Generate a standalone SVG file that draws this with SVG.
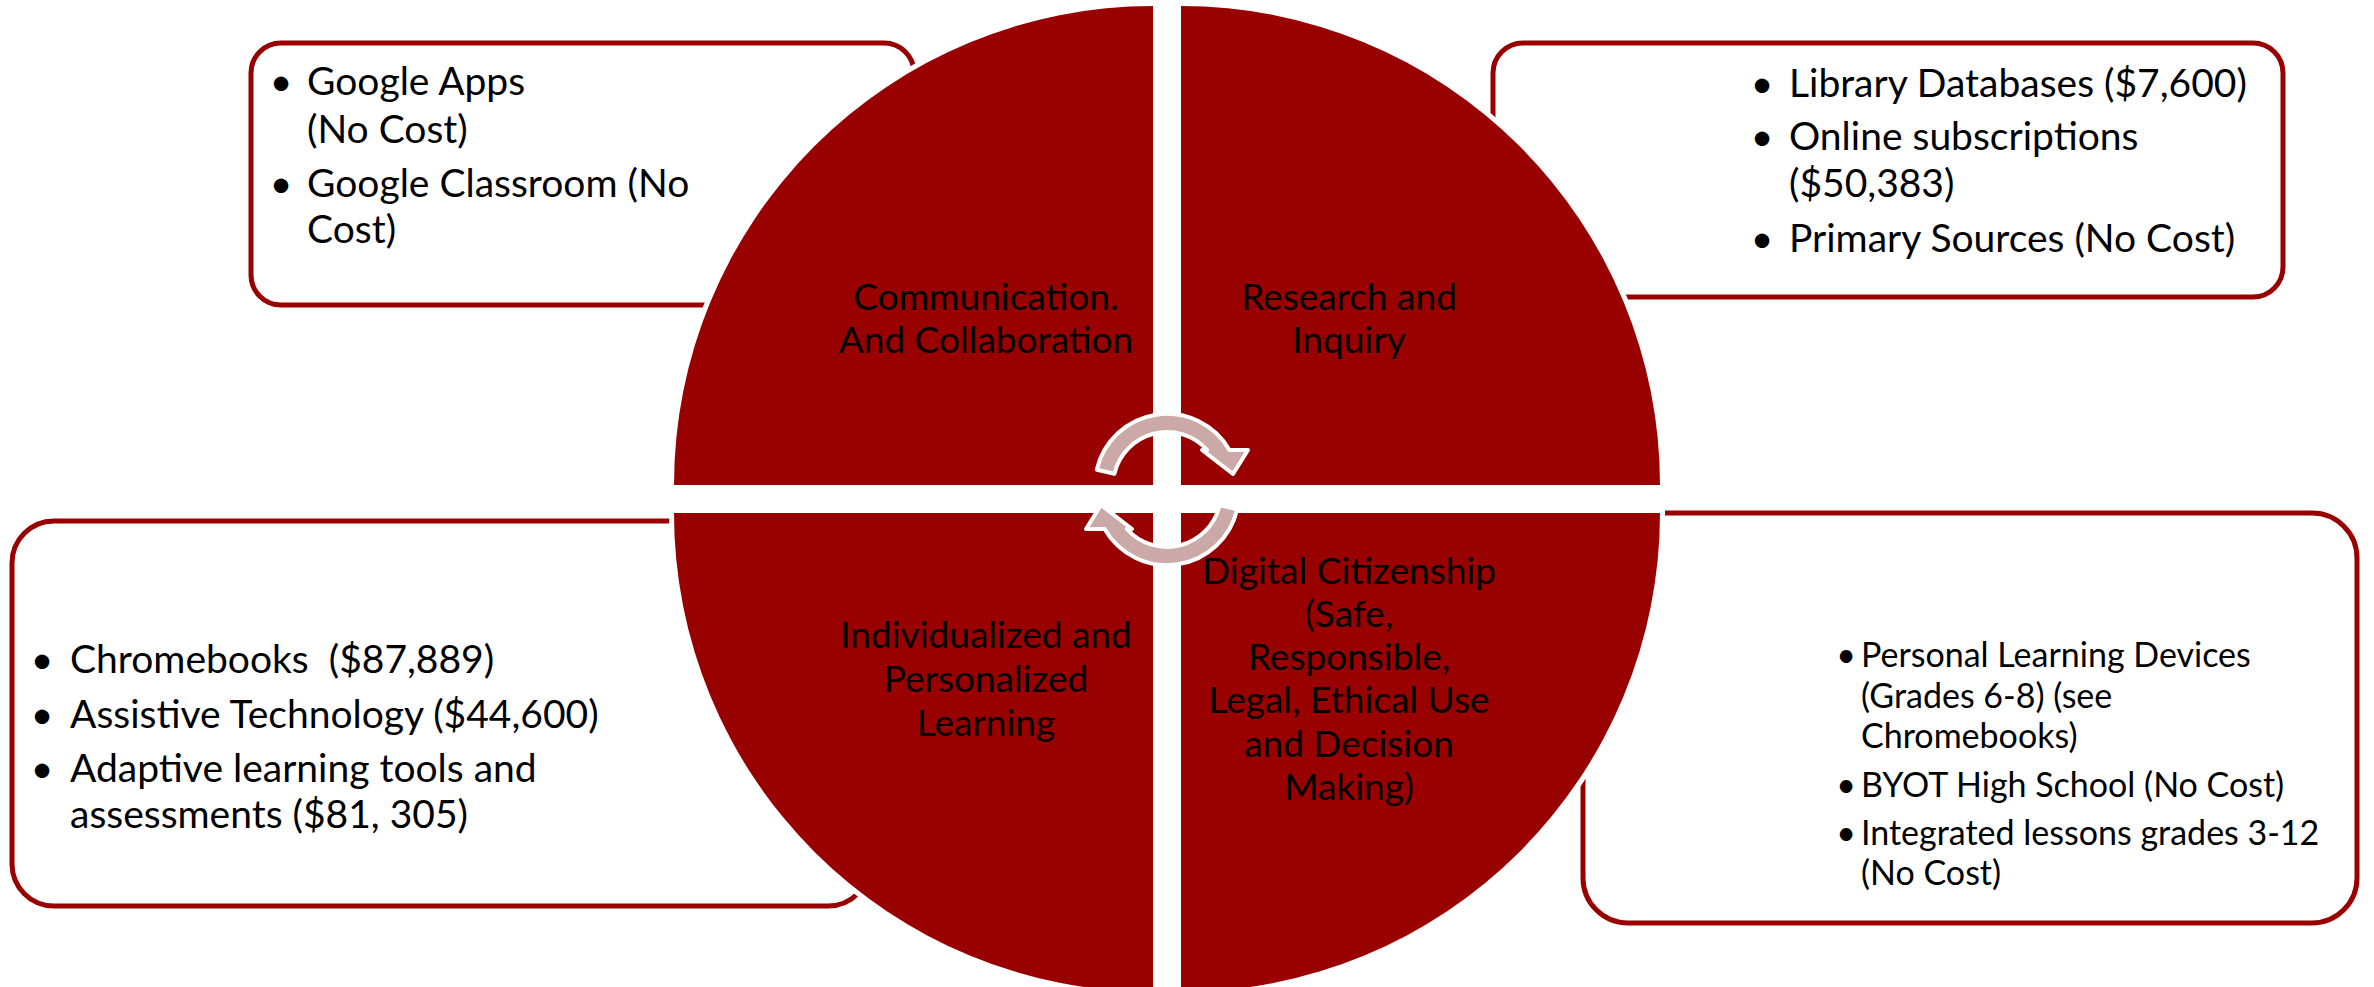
<svg xmlns="http://www.w3.org/2000/svg" width="2374" height="987" viewBox="0 0 2374 987">
<style>
.box{fill:#fff;stroke:#990000;stroke-width:5}
.quad{fill:#990000;stroke:#fff;stroke-width:10;paint-order:stroke}
.bt{font-family:Lato,"Liberation Sans",sans-serif;font-size:39px;fill:#000}
.bs{font-family:Lato,"Liberation Sans",sans-serif;font-size:34px;fill:#000}
.ct{font-family:Lato,"Liberation Sans",sans-serif;font-size:37px;fill:#000;text-anchor:middle}
.bul{text-anchor:middle}
.arr{fill:#CBA9A9;stroke:#fff;stroke-width:4;stroke-linejoin:round}
</style>
<rect width="2374" height="987" fill="#fff"/>
<g id="box-communication">
<rect class="box" x="251" y="43" width="663" height="262" rx="30"/>
<text class="bt"><tspan class="bul" x="281" y="95">•</tspan><tspan x="307" y="95">Google Apps</tspan><tspan x="307" y="143">(No Cost)</tspan><tspan class="bul" x="281" y="197">•</tspan><tspan x="307" y="197">Google Classroom (No</tspan><tspan x="307" y="243">Cost)</tspan></text>
</g>
<g id="box-research">
<rect class="box" x="1493" y="43" width="790" height="254" rx="30"/>
<text class="bt"><tspan class="bul" x="1762" y="97">•</tspan><tspan x="1789" y="97">Library Databases ($7,600)</tspan><tspan class="bul" x="1762" y="150">•</tspan><tspan x="1789" y="150">Online subscriptions</tspan><tspan x="1789" y="197">($50,383)</tspan><tspan class="bul" x="1762" y="252">•</tspan><tspan x="1789" y="252">Primary Sources (No Cost)</tspan></text>
</g>
<g id="box-individualized">
<rect class="box" x="12" y="521" width="858" height="385" rx="42"/>
<text class="bt"><tspan class="bul" x="42" y="673">•</tspan><tspan x="70" y="673">Chromebooks&#160; ($87,889)</tspan><tspan class="bul" x="42" y="728">•</tspan><tspan x="70" y="728">Assistive Technology ($44,600)</tspan><tspan class="bul" x="42" y="782">•</tspan><tspan x="70" y="782">Adaptive learning tools and</tspan><tspan x="70" y="828">assessments ($81, 305)</tspan></text>
</g>
<g id="box-digital">
<rect class="box" x="1583" y="513" width="774" height="410" rx="45"/>
<text class="bs"><tspan class="bul" x="1846" y="667">•</tspan><tspan x="1861" y="667">Personal Learning Devices</tspan><tspan x="1861" y="708">(Grades 6-8) (see</tspan><tspan x="1861" y="748">Chromebooks)</tspan><tspan class="bul" x="1846" y="797">•</tspan><tspan x="1861" y="797">BYOT High School (No Cost)</tspan><tspan class="bul" x="1846" y="845">•</tspan><tspan x="1861" y="845">Integrated lessons grades 3-12</tspan><tspan x="1861" y="885">(No Cost)</tspan></text>
</g>
<g id="quad-communication">
<path class="quad" d="M1153,485 L674,485 A479,479 0 0 1 1153,6 Z"/>
<text class="ct"><tspan x="986" y="310">Communication.</tspan><tspan x="986" y="353">And Collaboration</tspan></text>
</g>
<g id="quad-research">
<path class="quad" d="M1181,485 L1181,6 A479,479 0 0 1 1660,485 Z"/>
<text class="ct"><tspan x="1349" y="310">Research and</tspan><tspan x="1349" y="353">Inquiry</tspan></text>
</g>
<g id="quad-individualized">
<path class="quad" d="M1153,513 L1153,992 A479,479 0 0 1 674,513 Z"/>
<text class="ct"><tspan x="986" y="648">Individualized and</tspan><tspan x="986" y="692">Personalized</tspan><tspan x="986" y="736">Learning</tspan></text>
</g>
<g id="quad-digital">
<path class="quad" d="M1181,513 L1660,513 A479,479 0 0 1 1181,992 Z"/>
<text class="ct"><tspan x="1349" y="584">Digital Citizenship</tspan><tspan x="1349" y="627">(Safe,</tspan><tspan x="1349" y="670">Responsible,</tspan><tspan x="1349" y="713">Legal, Ethical Use</tspan><tspan x="1349" y="757">and Decision</tspan><tspan x="1349" y="800">Making)</tspan></text>
</g>
<g id="connectors">
<path id="arrow-top" class="arr" d="M1096.8,469.8 A72,72 0 0 1 1229.4,450 L1248,450 L1233,474 L1202,450 L1207.2,450 A54,54 0 0 0 1114.4,473.8 Z"/>
<path id="arrow-bottom" class="arr" transform="rotate(180 1167 489.5)" d="M1096.8,469.8 A72,72 0 0 1 1229.4,450 L1248,450 L1233,474 L1202,450 L1207.2,450 A54,54 0 0 0 1114.4,473.8 Z"/>
</g>
</svg>
